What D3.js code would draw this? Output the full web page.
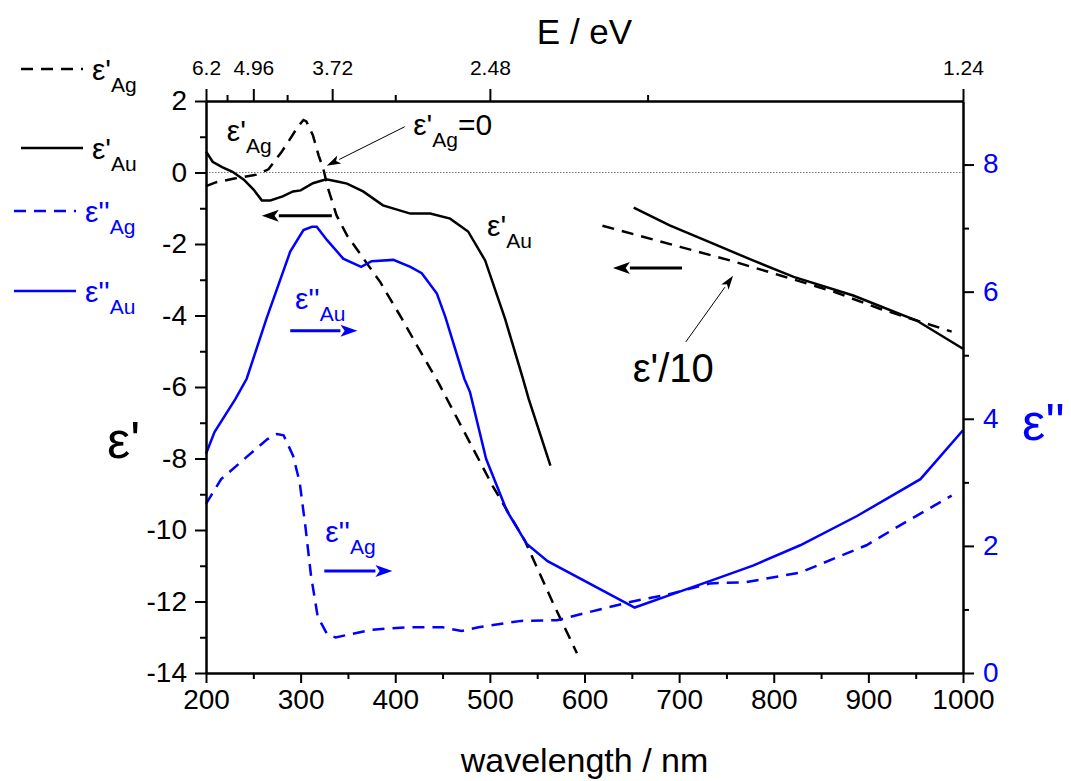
<!DOCTYPE html>
<html>
<head>
	<meta charset="utf-8">
	<title></title>
	<style>
		body { margin: 0; background: #fff; }
		text { font-family: "Liberation Sans", Arial, sans-serif; }
	</style>
</head>
<body>
	<svg id="container" width="1071" height="781"></svg>
<script src="https://d3js.org/d3.v7.min.js"></script>
<script>
	// [wavelength nm, value]
	// eps' Ag, UV part (left axis)
	let epsAgRe = [[200,-0.38],[211,-0.27],[230,-0.17],[253,-0.06],[266,0.09],[280,0.58],[287,0.86],
		[297,1.28],[303,1.47],[306,1.43],[313,1.04],[319,0.48],[324,0.1],[329,-0.45],[338,-1.2],
		[349,-1.76],[384,-3.06],[407,-4.09],[423,-4.84],[446,-5.9],[503,-8.77],[537,-10.3],
		[566,-12.0],[592,-13.45]]
	// eps'/10 Ag, near IR part
	let epsAgRe10 = [[619,-1.49],[701,-2.08],[754,-2.46],[807,-2.88],[863,-3.33],[912,-3.81],
		[951,-4.14],[988,-4.45]]
	// eps' Au
	let epsAuRe = [[200,0.59],[207,0.3],[217,0.15],[228,0.02],[240,-0.2],[250,-0.47],[259,-0.78],
		[268,-0.78],[281,-0.67],[292,-0.53],[300,-0.5],[313,-0.3],[327,-0.19],[340,-0.26],
		[349,-0.31],[366,-0.53],[387,-0.92],[416,-1.15],[437,-1.15],[458,-1.29],[477,-1.65],
		[495,-2.46],[516,-4.09],[535,-5.77],[541,-6.33],[564,-8.2]]
	// eps'/10 Au
	let epsAuRe10 = [[652,-0.98],[690,-1.48],[736,-1.99],[778,-2.46],[821,-2.92],[884,-3.44],
		[951,-4.14],[1000,-4.93]]
	// eps'' Ag (right axis)
	let epsAgIm = [[200,2.66],[216,3.05],[243,3.4],[265,3.68],[275,3.76],[282,3.74],[292,3.42],
		[299,3.0],[305,2.31],[311,1.53],[318,0.89],[328,0.61],[337,0.56],[375,0.68],[412,0.72],
		[450,0.72],[470,0.66],[488,0.72],[533,0.82],[571,0.83],[616,1.0],[652,1.13],[687,1.23],
		[733,1.41],[771,1.43],[828,1.58],[870,1.84],[898,2.01],[933,2.32],[988,2.79]]
	// eps'' Au (right axis)
	let epsAuIm = [[200,3.45],[209,3.79],[231,4.31],[243,4.63],[264,5.58],[289,6.63],[303,6.97],
		[312,7.02],[317,7.02],[328,6.81],[345,6.52],[364,6.39],[375,6.48],[398,6.5],[416,6.39],
		[428,6.29],[444,5.97],[453,5.6],[473,4.63],[479,4.42],[496,3.37],[518,2.55],[539,2.03],
		[561,1.76],[653,1.03],[687,1.21],[733,1.45],[778,1.69],[828,2.01],[888,2.47],[955,3.05],
		[1000,3.82]]

	let xTicks = d3.range(200, 1001, 100)
	let xMinor = d3.range(250, 1000, 100)
	let leftTicks = d3.range(-14, 3, 2)
	let leftMinor = d3.range(-13, 2, 2)
	let rightTicks = [0, 2, 4, 6, 8]
	let rightMinor = [1, 3, 5, 7]
	let eVTicks = [6.2, 4.96, 3.72, 2.48, 1.24]
	let eVMinor = [5.58, 4.34, 3.10, 1.86]

	let blue = "#0000ff"
	let svg = d3.select("#container")
	let margin = {left: 206, right: 108, top: 101, bottom: 108}
	let W = 1071, H = 781

	let x = d3.scaleLinear().domain([200, 1000]).range([margin.left, W - margin.right])
	let yL = d3.scaleLinear().domain([-14, 2]).range([H - margin.bottom, margin.top])
	let yR = d3.scaleLinear().domain([0, 9]).range([H - margin.bottom, margin.top])

	// zero line
	svg.append("line")
		.attr("x1", x(200)).attr("x2", x(1000))
		.attr("y1", yL(0)).attr("y2", yL(0))
		.attr("stroke", "#777").attr("stroke-width", 1).attr("stroke-dasharray", "1.5,1.5")

	// curves
	let lineL = d3.line().x(d => x(d[0])).y(d => yL(d[1]))
	let lineR = d3.line().x(d => x(d[0])).y(d => yR(d[1]))
	let curves = [
		{data: epsAgRe, line: lineL, color: "#000", dash: "12,8"},
		{data: epsAgRe10, line: lineL, color: "#000", dash: "12,8"},
		{data: epsAuRe, line: lineL, color: "#000", dash: null},
		{data: epsAuRe10, line: lineL, color: "#000", dash: null},
		{data: epsAgIm, line: lineR, color: blue, dash: "12,8"},
		{data: epsAuIm, line: lineR, color: blue, dash: null}
	]
	svg.selectAll("path.curve")
		.data(curves)
		.enter().append("path")
		.attr("class", "curve")
		.attr("d", c => c.line(c.data))
		.attr("fill", "none")
		.attr("stroke", c => c.color)
		.attr("stroke-width", 2.5)
		.attr("stroke-dasharray", c => c.dash)

	// axes
	function styleAxis(g, size, color) {
		g.selectAll(".domain").attr("stroke", "#000").attr("stroke-width", 2)
		g.selectAll(".tick line").attr("stroke", "#000").attr("stroke-width", 2)
		g.selectAll("text").attr("font-size", size).attr("fill", color)
			.attr("font-family", "Liberation Sans, Arial, sans-serif")
	}
	let gB = svg.append("g").attr("transform", `translate(0,${H - margin.bottom})`)
		.call(d3.axisBottom(x).tickValues(xTicks).tickSize(10).tickPadding(6).tickSizeOuter(0)
			.tickFormat(d3.format("d")))
	styleAxis(gB, 28, "#000")
	let gBm = svg.append("g").attr("transform", `translate(0,${H - margin.bottom})`)
		.call(d3.axisBottom(x).tickValues(xMinor).tickSize(6).tickFormat("").tickSizeOuter(0))
	styleAxis(gBm, 28, "#000")

	let gL = svg.append("g").attr("transform", `translate(${margin.left},0)`)
		.call(d3.axisLeft(yL).tickValues(leftTicks).tickSize(11).tickPadding(8).tickSizeOuter(0)
			.tickFormat(d => d < 0 ? "-" + Math.abs(d) : d))
	styleAxis(gL, 28, "#000")
	let gLm = svg.append("g").attr("transform", `translate(${margin.left},0)`)
		.call(d3.axisLeft(yL).tickValues(leftMinor).tickSize(6).tickFormat("").tickSizeOuter(0))
	styleAxis(gLm, 28, "#000")

	let gR = svg.append("g").attr("transform", `translate(${W - margin.right},0)`)
		.call(d3.axisRight(yR).tickValues(rightTicks).tickSize(11).tickPadding(9).tickSizeOuter(0))
	styleAxis(gR, 28, blue)
	gR.selectAll("text").attr("dy", "0.3em")
	let gRm = svg.append("g").attr("transform", `translate(${W - margin.right},0)`)
		.call(d3.axisRight(yR).tickValues(rightMinor).tickSize(6).tickFormat("").tickSizeOuter(0))
	styleAxis(gRm, 28, blue)

	let gT = svg.append("g").attr("transform", `translate(0,${margin.top})`)
		.call(d3.axisTop(x).tickValues(eVTicks.map(e => 1240 / e)).tickSize(12).tickPadding(14)
			.tickSizeOuter(0).tickFormat((d, i) => eVTicks[i]))
	styleAxis(gT, 21, "#000")
	let gTm = svg.append("g").attr("transform", `translate(0,${margin.top})`)
		.call(d3.axisTop(x).tickValues(eVMinor.map(e => 1240 / e)).tickSize(6).tickFormat("")
			.tickSizeOuter(0))
	styleAxis(gTm, 21, "#000")

	// axis titles
	svg.append("text").attr("x", x(600)).attr("y", 772).attr("text-anchor", "middle")
		.attr("font-size", 34).text("wavelength / nm")
	svg.append("text").attr("x", x(600)).attr("y", 44).attr("text-anchor", "middle")
		.attr("font-size", 35).text("E / eV")
	svg.append("text").attr("x", 107).attr("y", 458).attr("font-size", 52).text("ε'")
	svg.append("text").attr("x", 1022).attr("y", 440).attr("font-size", 52).attr("fill", blue).text("ε''")

	// eps label with subscript
	function eps(px, py, primes, sub, fs, color, tail) {
		let t = svg.append("text").attr("x", px).attr("y", py).attr("fill", color).attr("font-size", fs)
		t.append("tspan").text("ε" + primes)
		t.append("tspan").attr("font-size", fs * 0.7).attr("dy", fs * 0.4).text(sub)
		if (tail) t.append("tspan").attr("dy", -fs * 0.4).text(tail)
		return t
	}

	// arrows
	function arrow(x1, y1, x2, y2, color, w, hl, hw) {
		let a = Math.atan2(y2 - y1, x2 - x1)
		let bx = x2 - hl * Math.cos(a), by = y2 - hl * Math.sin(a)
		svg.append("line").attr("x1", x1).attr("y1", y1).attr("x2", bx).attr("y2", by)
			.attr("stroke", color).attr("stroke-width", w)
		let nx = -Math.sin(a) * hw, ny = Math.cos(a) * hw
		svg.append("path")
			.attr("d", `M${x2},${y2}L${bx + nx},${by + ny}L${bx + hl * 0.25 * Math.cos(a)},${by + hl * 0.25 * Math.sin(a)}L${bx - nx},${by - ny}Z`)
			.attr("fill", color)
	}
	// thick direction arrows (nm, eps' units)
	arrow(x(333), yL(-1.21), x(259), yL(-1.21), "#000", 3, 17, 6)
	arrow(x(703), yL(-2.67), x(630), yL(-2.67), "#000", 3, 17, 6)
	arrow(x(289), yL(-4.43), x(360), yL(-4.43), blue, 3, 17, 6)
	arrow(x(325), yL(-11.15), x(397), yL(-11.15), blue, 3, 17, 6)
	// thin pointers
	arrow(x(410), yL(1.28), x(327.6), yL(0.19), "#000", 1, 14, 4.5)
	arrow(x(707), yL(-4.74), x(757), yL(-2.89), "#000", 1, 14, 4.5)

	// curve annotations
	eps(x(222), yL(0.87), "'", "Ag", 30, "#000")
	eps(x(419), yL(1.04), "'", "Ag", 30, "#000", "=0")
	eps(x(497), yL(-1.79), "'", "Au", 30, "#000")
	eps(x(294), yL(-3.81), "''", "Au", 30, blue)
	eps(x(326), yL(-10.34), "''", "Ag", 30, blue)
	svg.append("text").attr("x", x(651)).attr("y", yL(-5.85)).attr("font-size", 40).text("ε'/10")

	// legend
	let legend = [
		{primes: "'", sub: "Ag", color: "#000", dash: "12,8", y: 69, x0: 21},
		{primes: "'", sub: "Au", color: "#000", dash: null, y: 148, x0: 21},
		{primes: "''", sub: "Ag", color: blue, dash: "12,8", y: 211, x0: 14},
		{primes: "''", sub: "Au", color: blue, dash: null, y: 291, x0: 14}
	]
	legend.forEach(l => {
		svg.append("line").attr("x1", l.x0).attr("x2", l.x0 + 62).attr("y1", l.y).attr("y2", l.y)
			.attr("stroke", l.color).attr("stroke-width", 2.5).attr("stroke-dasharray", l.dash)
		eps(l.x0 + 71, l.y + 11, l.primes, l.sub, 30, l.color)
	})
</script>
</body>
</html>
